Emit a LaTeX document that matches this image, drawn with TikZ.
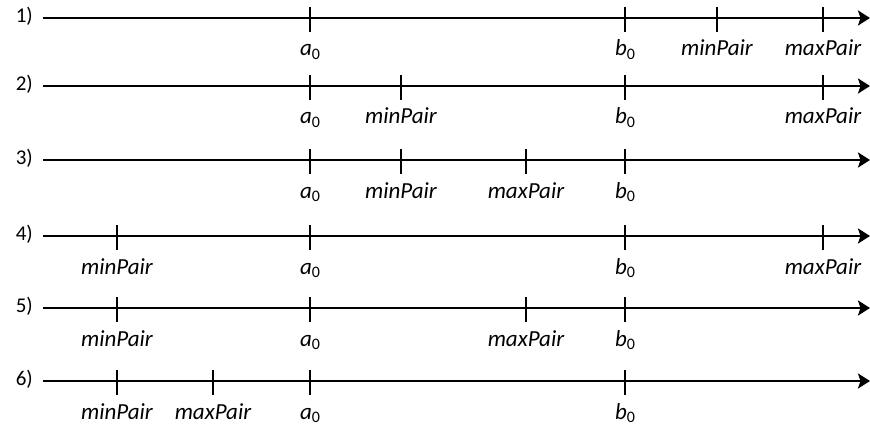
\documentclass[tikz,border=0pt]{standalone}
\usepackage{fontspec}
\setmainfont{Carlito}
\usetikzlibrary{arrows.meta}
\newcommand{\sub}[2]{#1\raisebox{-0.3ex}{\upshape\fontsize{16}{16}\selectfont #2}}
\begin{document}
\begin{tikzpicture}[x=1pt,y=-1pt,
  axis/.style={line width=2.8pt,-{Stealth[length=12pt,width=15pt,inset=2.5pt]}},
  tick/.style={line width=1.8pt},
  lbl/.style={font=\fontsize{23}{27}\selectfont\itshape,inner sep=0pt,anchor=base},
  num/.style={font=\fontsize{21}{24}\selectfont,inner sep=0pt,anchor=east}]
\useasboundingbox (0,0) rectangle (870,425);
% rows: y positions
\foreach \n/\yy in {1/18,2/86,3/160,4/236,5/308,6/381}{
  \node[num] (r\n) at (33,\yy-2) {\n)};
  \coordinate (s\n) at (43,\yy);
  \coordinate (e\n) at (870,\yy);
  \draw[axis] (s\n) -- (e\n);
}
% ticks: row/x/label
\foreach \n/\yy/\xx/\t [count=\i] in {
 1/18/310/{\sub{a}{0}}, 1/18/625/{\sub{b}{0}}, 1/18/717/minPair, 1/18/823/maxPair,
 2/86/310/{\sub{a}{0}}, 2/86/401/minPair, 2/86/625/{\sub{b}{0}}, 2/86/823/maxPair,
 3/160/310/{\sub{a}{0}}, 3/160/401/minPair, 3/160/526/maxPair, 3/160/625/{\sub{b}{0}},
 4/236/117/minPair, 4/236/310/{\sub{a}{0}}, 4/236/625/{\sub{b}{0}}, 4/236/823/maxPair,
 5/308/117/minPair, 5/308/310/{\sub{a}{0}}, 5/308/526/maxPair, 5/308/625/{\sub{b}{0}},
 6/381/117/minPair, 6/381/213/maxPair, 6/381/310/{\sub{a}{0}}, 6/381/625/{\sub{b}{0}}}{
  \coordinate (t\i a) at (\xx,\yy-11);
  \coordinate (t\i b) at (\xx,\yy+14);
  \draw[tick] (t\i a) -- (t\i b);
  \node[lbl] (l\i) at (\xx,\yy+38) {\t};
}
\end{tikzpicture}
\end{document}
